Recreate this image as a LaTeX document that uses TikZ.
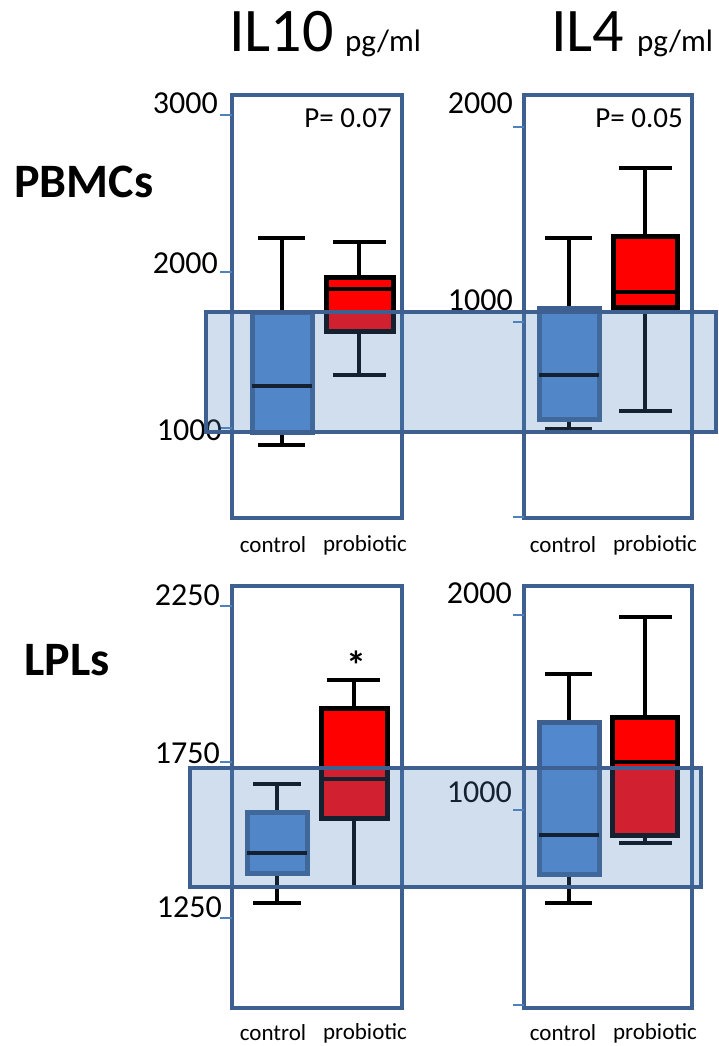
\documentclass[tikz,border=0pt]{standalone}
\usepackage{fontspec}
\setmainfont{Carlito}
\definecolor{framecol}{RGB}{61,96,144}
\definecolor{ctrlfill}{RGB}{82,136,206}
\definecolor{tickcol}{RGB}{79,129,189}
\definecolor{bandcol}{RGB}{79,129,189}
\begin{document}
\begin{tikzpicture}[x=1pt,y=-1pt]
    % styles
    \tikzset{
      frame/.style      = {line width=4pt, draw=framecol},
      band/.style       = {fill=bandcol, fill opacity=0.26, draw=framecol, line width=4pt},
      ctrlbox/.style    = {fill=ctrlfill, draw=framecol, line width=5pt},
      probox/.style     = {fill=red, draw=black, line width=5pt},
      whisker/.style    = {line width=4pt, draw=black},
      tickmark/.style   = {line width=1.5pt, draw=tickcol},
      ticklabel/.style  = {anchor=east, inner sep=0pt, font=\fontsize{32}{32}\selectfont},
      grouplabel/.style = {inner sep=0pt, font=\fontsize{23}{23}\selectfont},
      rowlabel/.style   = {anchor=west, inner sep=0pt, font=\fontsize{48}{48}\selectfont\bfseries},
      pvalue/.style     = {anchor=east, inner sep=0pt, font=\fontsize{29}{29}\selectfont}
    }
    \useasboundingbox (0,0) rectangle (718,1046);

    % Headers:
    \node[anchor=base west, inner sep=0pt, font=\fontsize{62}{62}\selectfont] (il10) at (229,52) {IL10};
    \node[anchor=base west, inner sep=0pt, font=\fontsize{31}{31}\selectfont] (il10unit) at (345,52) {pg/ml};
    \node[anchor=base west, inner sep=0pt, font=\fontsize{62}{62}\selectfont] (il4) at (551,52) {IL4};
    \node[anchor=base west, inner sep=0pt, font=\fontsize{31}{31}\selectfont] (il4unit) at (637,52) {pg/ml};
    \node[rowlabel] (pbmcs) at (14,182) {PBMCs};
    \node[rowlabel] (lpls) at (24,660) {LPLs};

    % Panel frames:
    \draw[frame] (232,95)  rectangle (402,518);
    \draw[frame] (524,95)  rectangle (692,518);
    \draw[frame] (232,586) rectangle (402,1008);
    \draw[frame] (524,586) rectangle (692,1008);

    % Axis ticks and labels:
    \draw[tickmark] (220,115) -- (232,115);
    \draw[tickmark] (220,272) -- (232,272);
    \draw[tickmark] (220,428) -- (232,428);
    \draw[tickmark] (513,127) -- (524,127);
    \draw[tickmark] (513,322) -- (524,322);
    \draw[tickmark] (513,517) -- (524,517);
    \draw[tickmark] (220,606) -- (232,606);
    \draw[tickmark] (220,762) -- (232,762);
    \draw[tickmark] (220,918) -- (232,918);
    \draw[tickmark] (513,615) -- (524,615);
    \draw[tickmark] (513,810) -- (524,810);
    \draw[tickmark] (513,1005) -- (524,1005);
    \node[ticklabel] (a3000) at (218,103) {3000};
    \node[ticklabel] (a2000) at (218,263) {2000};
    \node[ticklabel] (a1000) at (222,430) {1000};
    \node[ticklabel] (b2000) at (513,103) {2000};
    \node[ticklabel] (b1000) at (513,300) {1000};
    \node[ticklabel] (c2250) at (220,595) {2250};
    \node[ticklabel] (c1750) at (220,753) {1750};
    \node[ticklabel] (c1250) at (222,907) {1250};
    \node[ticklabel] (d2000) at (512,593) {2000};
    \node[ticklabel] (d1000) at (512,792) {1000};

    % PBMCs, IL10:
    \draw[whisker] (282,312) -- (282,238);
    \draw[whisker] (258,238) -- (305,238);
    \draw[whisker] (282,432) -- (282,445);
    \draw[whisker] (258,445) -- (305,445);
    \draw[ctrlbox] (252,312) rectangle (312,432);
    \draw[whisker] (252,386) -- (312,386);
    \draw[whisker] (359,277) -- (359,242);
    \draw[whisker] (333,242) -- (386,242);
    \draw[whisker] (359,331) -- (359,375);
    \draw[whisker] (333,375) -- (386,375);
    \draw[probox] (326,277) rectangle (393,331);
    \draw[whisker] (326,289) -- (393,289);
    \node[pvalue] (p07) at (392,118) {P= 0.07};

    % PBMCs, IL4:
    \draw[whisker] (569,308) -- (569,238);
    \draw[whisker] (545,238) -- (592,238);
    \draw[whisker] (569,419) -- (569,429);
    \draw[whisker] (545,429) -- (592,429);
    \draw[ctrlbox] (539,308) rectangle (599,419);
    \draw[whisker] (539,375) -- (599,375);
    \draw[whisker] (645,236) -- (645,168);
    \draw[whisker] (619,168) -- (672,168);
    \draw[whisker] (645,307) -- (645,411);
    \draw[whisker] (619,411) -- (672,411);
    \draw[probox] (613,236) rectangle (677,307);
    \draw[whisker] (613,292) -- (677,292);
    \node[pvalue] (p05) at (683,118) {P= 0.05};

    % LPLs, IL10:
    \draw[whisker] (277,812) -- (277,784);
    \draw[whisker] (253,784) -- (301,784);
    \draw[whisker] (277,873) -- (277,903);
    \draw[whisker] (253,903) -- (301,903);
    \draw[ctrlbox] (247,812) rectangle (307,873);
    \draw[whisker] (247,853) -- (307,853);
    \draw[whisker] (354,708) -- (354,680);
    \draw[whisker] (327,680) -- (380,680);
    \draw[whisker] (354,818) -- (354,885);
    \draw[probox] (321,708) rectangle (387,818);
    \draw[whisker] (321,779) -- (387,779);
    \node[inner sep=0pt, font=\fontsize{40}{40}\selectfont\bfseries] (star) at (356,665) {*};

    % LPLs, IL4:
    \draw[whisker] (569,722) -- (569,674);
    \draw[whisker] (545,674) -- (592,674);
    \draw[whisker] (569,874) -- (569,903);
    \draw[whisker] (545,903) -- (592,903);
    \draw[ctrlbox] (539,722) rectangle (599,874);
    \draw[whisker] (539,835) -- (599,835);
    \draw[whisker] (645,717) -- (645,617);
    \draw[whisker] (619,617) -- (672,617);
    \draw[whisker] (645,835) -- (645,843);
    \draw[whisker] (619,843) -- (672,843);
    \draw[probox] (612,717) rectangle (677,835);
    \draw[whisker] (612,762) -- (677,762);

    % Highlight bands:
    \draw[band] (206,312) rectangle (716,432);
    \draw[band] (190,768) rectangle (701,887);

    % Group labels:
    \node[grouplabel] (ctrla) at (273,545) {control};
    \node[grouplabel] (proba) at (365,545) {probiotic};
    \node[grouplabel] (ctrlb) at (563,545) {control};
    \node[grouplabel] (probb) at (655,545) {probiotic};
    \node[grouplabel] (ctrlc) at (273,1033) {control};
    \node[grouplabel] (probc) at (365,1033) {probiotic};
    \node[grouplabel] (ctrld) at (563,1033) {control};
    \node[grouplabel] (probd) at (655,1033) {probiotic};
\end{tikzpicture}
\end{document}
